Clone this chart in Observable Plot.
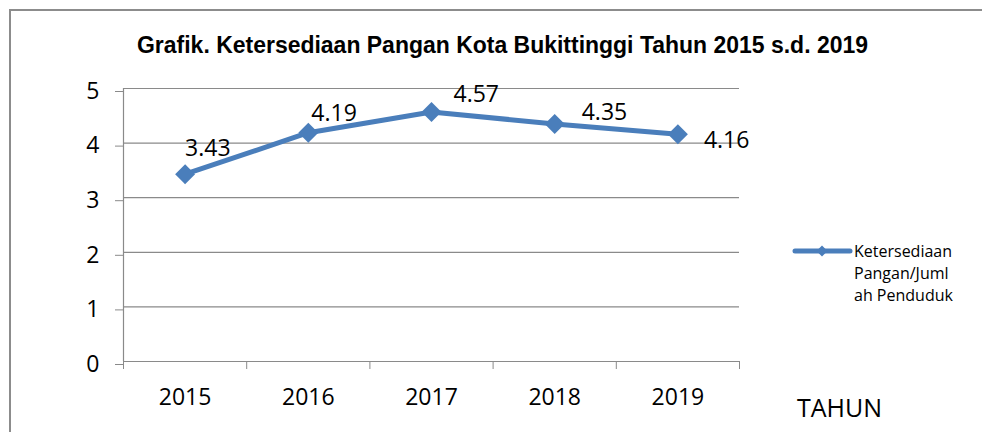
<!DOCTYPE html>
<html>
<head>
<meta charset="utf-8">
<script src="https://cdn.jsdelivr.net/npm/d3@7"></script>
<script src="https://cdn.jsdelivr.net/npm/@observablehq/plot@0.6"></script>
<style>
  html, body { margin: 0; padding: 0; background: #fff; overflow: hidden; }
  #wrap { position: relative; width: 982px; height: 432px; overflow: hidden; background: #fff; }
  #chart { position: absolute; left: 0; top: 0; }
  svg.overlay { position: absolute; left: 0; top: 0; pointer-events: none; }
</style>
</head>
<body>
<div id="wrap">
  <div id="chart"></div>
</div>
<script>
// ---- data ----
const title = "Grafik. Ketersediaan Pangan Kota Bukittinggi Tahun 2015 s.d. 2019";
const years = ["2015", "2016", "2017", "2018", "2019"];
const values = [3.43, 4.19, 4.57, 4.35, 4.16];
const yTicks = [0, 1, 2, 3, 4, 5];
const xAxisTitle = "TAHUN";
const legendLines = ["Ketersediaan", "Pangan/Juml", "ah Penduduk"];

// ---- styles ----
const blue = "#4A7EBB";
const gridColor = "#8a8a8a";
const font = "'Open Sans', Lato, sans-serif";
// per-label offsets (px) for the value labels, as placed in the original
const labelOffsets = [[0, -27], [3, -20], [22, -18], [27, -12], [26, 5]];

const data = years.map((year, i) => ({year, idx: i + 1, value: values[i], i}));
const bounds = d3.range(years.length + 1).map(i => i + 0.5);

const W = 982, H = 432;
const plot = Plot.plot({
  width: W, height: H,
  marginLeft: 123, marginRight: 243, marginTop: 88, marginBottom: 71,
  x: {type: "linear", domain: [0.5, years.length + 0.5], axis: null},
  y: {domain: [0, 5], axis: null},
  style: {background: "transparent", fontFamily: font, color: "#000", overflow: "visible"},
  marks: [
    Plot.ruleY(yTicks.filter(d => d > 0), {stroke: gridColor, strokeWidth: 1.2}),
    Plot.ruleY([0], {stroke: gridColor, strokeWidth: 1.2}),
    Plot.ruleX([bounds[0]], {y1: 0, y2: 5, stroke: gridColor, strokeWidth: 1.2}),
    Plot.axisY(yTicks, {tickSize: 8, tickPadding: 16, stroke: gridColor, fill: "#000",
      fontSize: 23, label: null, tickFormat: d => String(d), dy: 3, strokeOpacity: 1}),
    Plot.axisX(bounds, {tickSize: 8, tickFormat: () => "", stroke: gridColor, label: null, strokeOpacity: 1}),
    Plot.axisX(data.map(d => d.idx), {tickSize: 0, tickPadding: 27, tickFormat: d => years[d - 1],
      fontSize: 23, fill: "#000", label: null}),
    Plot.line(data, {x: "idx", y: "value", stroke: blue, strokeWidth: 5, strokeLinejoin: "round"}),
    Plot.dot(data, {x: "idx", y: "value", symbol: "diamond2", r: 9, fill: blue, stroke: null}),
    ...data.map((d, i) => Plot.text([d], {
      x: "idx", y: "value", text: r => r.value.toFixed(2),
      textAnchor: "start", dx: labelOffsets[i][0], dy: labelOffsets[i][1] + 1,
      fontSize: 23, fill: "#000"
    }))
  ]
});
document.getElementById("chart").appendChild(plot);

// ---- border, title, axis title, legend (overlay) ----
const ns = "http://www.w3.org/2000/svg";
const ov = document.createElementNS(ns, "svg");
ov.setAttribute("class", "overlay");
ov.setAttribute("width", W);
ov.setAttribute("height", H);
function el(tag, attrs) {
  const e = document.createElementNS(ns, tag);
  for (const k in attrs) e.setAttribute(k, attrs[k]);
  ov.appendChild(e);
  return e;
}
function txt(str, x, y, attrs) {
  const t = el("text", Object.assign({x, y}, attrs));
  t.textContent = str;
  return t;
}
el("path", {d: `M10,${H}V10H${W}`, fill: "none", stroke: "#8c8c8c", "stroke-width": 2});
txt(title, 137, 53, {"font-family": "'Liberation Sans Narrow', 'Liberation Sans', Arial, sans-serif",
  "font-weight": "bold", "font-size": 23, "textLength": 731, "lengthAdjust": "spacingAndGlyphs", fill: "#000"});
txt(xAxisTitle, 797, 417, {"font-family": font, "font-size": 25, fill: "#000"});
legendLines.forEach((s, i) => txt(s, 854, [257, 279, 301][i], {"font-family": font, "font-size": 16, fill: "#000"}));
el("line", {x1: 795, x2: 850, y1: 251, y2: 251, stroke: blue, "stroke-width": 5, "stroke-linecap": "round"});
el("path", {d: "M822,245.5L827.5,251L822,256.5L816.5,251Z", fill: blue});
document.getElementById("wrap").appendChild(ov);
</script>
</body>
</html>
